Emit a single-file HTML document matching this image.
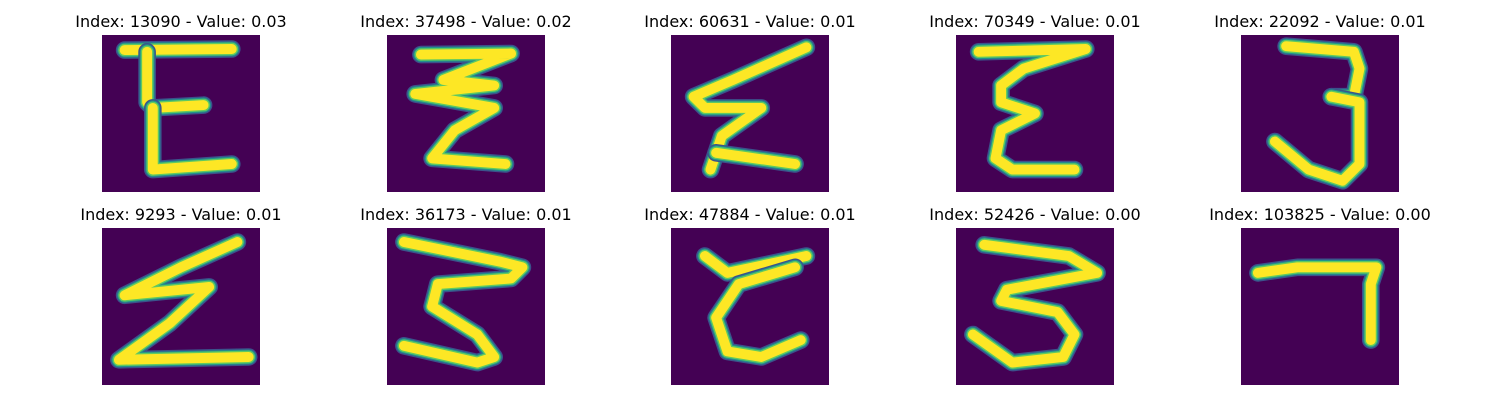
<!DOCTYPE html>
<html><head><meta charset="utf-8">
<style>
html,body{margin:0;padding:0;background:#fff;width:1500px;height:400px;overflow:hidden}
svg{display:block}
text{font-family:"DejaVu Sans","Liberation Sans",sans-serif;font-size:16px;fill:#000}
</style></head>
<body>
<svg id="fig" width="1500" height="400" viewBox="0 0 1500 400" xmlns="http://www.w3.org/2000/svg"></svg>
<script>
const indices = [13090, 37498, 60631, 70349, 22092, 9293, 36173, 47884, 52426, 103825];
const values = ["0.03","0.02","0.01","0.01","0.01","0.01","0.01","0.01","0.00","0.00"];
const strokes = [
 [[[4,2.7],[23,2.5]],[[8,3],[8,12],[9,13],[18,12.5]],[[9,13],[9,24],[23,23]]],
 [[[6,3.5],[22,3.3],[10,8],[19,9],[5,10.5],[19,13],[12,17],[8,22],[21,23]]],
 [[[24,2.2],[11,8],[4,11],[6,13],[16,13],[9,18],[7,24]],[[8,21],[22,23]]],
 [[[4,3],[23,2.5],[12,6],[8,9],[8,12],[14,14],[8,17],[7,22],[10,24],[21,24]]],
 [[[8,2],[20,3],[21,6],[20,11],[16,11]],[[16,11],[21,12],[21,23],[18,26],[12,24],[6,19]]],
 [[[24,2.5],[14,7],[4,12],[19,10.5],[12,17],[3,23.5],[26,23]]],
 [[[3,2.5],[20,6],[24,7],[22,9],[9,10],[8,14],[16,19],[19,23],[16,24],[3,21]]],
 [[[6,5],[10,8],[24,5]],[[22,7],[12,10],[8,16],[10,22],[16,23],[23,20]]],
 [[[5,3],[20,5],[25,8],[9,11],[8,13],[18,15],[21,19],[19,23],[10,24],[3,19]]],
 [[[3,8],[10,7],[24,7],[23,10],[23,20]]]
];
const NS="http://www.w3.org/2000/svg";
const svg=document.getElementById('fig');
const colX=[102,387,671,956,1241], rowY=[35,228], W=158, H=157;
function mk(tag,attrs,parent){const e=document.createElementNS(NS,tag);for(const k in attrs)e.setAttribute(k,attrs[k]);parent.appendChild(e);return e;}
indices.forEach((idx,i)=>{
  const x0=colX[i%5], y0=rowY[Math.floor(i/5)];
  const g=mk('g',{},svg);
  
  
  const t=mk('text',{x:x0+W/2,y:y0-8,'text-anchor':'middle'},g);
  t.textContent='Index: '+idx+' - Value: '+values[i];
  
  
  const bg=mk('rect',{x:x0,y:y0,width:W,height:H,fill:'#440154'},g);
  
  
  const sx=v=>x0+v*W/28, sy=v=>y0+v*H/28;
  const layers=[[32,'#3b528b'],[27,'#21918c'],[23,'#5ec962'],[18,'#fde725']];
  strokes[i].forEach(s=>{
    const d='M'+s.map(p=>sx(p[0]).toFixed(1)+','+sy(p[1]).toFixed(1)).join(' L');
    layers.forEach(([w,c])=>{
      const p=mk('path',{d:d,fill:'none',stroke:c,'stroke-width':w*0.55,'stroke-linecap':'round','stroke-linejoin':'round'},g);
      
      
    });
  });
});
</script>
</body></html>
